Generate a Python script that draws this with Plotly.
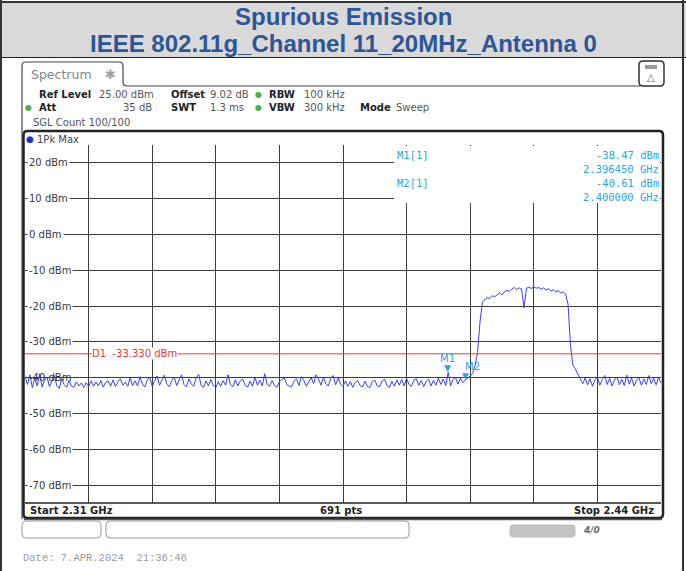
import numpy as np
import plotly.graph_objects as go

# ---- sweep settings -------------------------------------------------------
START_GHZ = 2.31
STOP_GHZ = 2.44
REF_LEVEL = 25.0          # dBm, top of the screen
BOTTOM_LEVEL = -75.0      # dBm, bottom of the screen
LIMIT_D1 = -33.330        # dBm, display line D1

Y_TICKS = [20, 10, 0, -10, -20, -30, -40, -50, -60, -70]
Y_TICK_TEXT = [f"{v} dBm" for v in Y_TICKS]

# ---- 1Pk Max trace, 0.5 MHz steps from 2.31 GHz to 2.44 GHz (dBm) --------
noise_below_band = [
    -39.6, -41.9, -39.2, -42.8, -40.1, -42.3, -38.9, -42.6, -40.7, -39.8,
    -42.5, -40.9, -39.4, -42.2, -43.0, -40.3, -41.9, -42.7, -40.8, -42.4,
    -42.6, -41.2, -42.3, -41.5, -42.7, -41.4, -42.5, -40.9, -42.4, -41.2,
    -42.3, -40.8, -42.6, -41.3, -40.9, -42.4, -40.6, -42.5, -41.1, -40.3,
    -42.1, -41.2, -42.4, -40.1, -42.2, -40.9, -42.3, -39.7, -41.8, -42.6,
    -40.6, -39.9, -42.4, -41.0, -39.5, -42.1, -40.6, -39.3, -41.9, -42.5,
    -40.8, -39.8, -42.2, -40.7, -39.2, -41.9, -42.6, -40.3, -41.8, -42.4,
    -40.0, -39.1, -42.1, -42.7, -40.9, -42.3, -40.5, -42.2, -42.8, -41.1,
    -42.4, -40.8, -42.1, -39.2, -41.9, -42.5, -40.6, -42.3, -40.9, -40.4,
    -42.2, -42.6, -41.0, -42.4, -39.8, -42.1, -40.7, -42.3, -38.9, -41.9,
    -42.4, -40.8, -42.2, -42.7, -41.1, -40.5, -40.1, -41.9, -42.4, -42.5,
    -41.0, -40.3, -42.2, -39.7, -40.8, -42.4, -41.1, -40.0, -41.6, -39.2,
    -40.4, -42.1, -39.9, -41.7, -42.3, -40.2, -39.4, -42.0, -40.1, -41.8,
    -42.5, -40.9, -42.4, -41.1, -42.7, -41.3, -40.8, -42.2, -42.6, -41.0,
    -42.4, -42.8, -41.1, -40.7, -42.3, -42.5, -40.9, -40.4, -42.2, -42.7,
    -41.0, -42.4, -40.6, -42.1, -40.5, -42.3, -40.2, -41.9, -42.4, -40.7,
    -40.3, -42.1, -40.8, -42.5, -41.0, -40.4, -42.3, -40.7, -42.1, -40.1,
    -41.9, -40.4, -42.2,
]
spike_m1 = [-38.5]
noise_near_edge = [-42.3, -40.5, -39.9, -41.8, -40.1, -41.4]
rising_edge = [-40.6, -40.1, -39.6, -38.8, -36.5, -33.0, -24.5, -18.8]
channel_and_falling_edge = [
    -18.3, -17.6, -17.9, -17.1, -17.4, -16.8, -16.3, -16.9, -16.0, -15.6,
    -15.9, -15.2, -14.8, -15.4, -14.9, -15.3, -20.5, -15.0, -14.7, -15.1,
    -14.6, -15.0, -14.8, -15.3, -14.9, -15.5, -15.2, -15.8, -15.4, -16.1,
    -15.7, -16.4, -16.0, -16.6, -19.5, -31.0, -36.5, -37.6, -39.2, -40.3,
]
noise_above_band = [
    -41.7, -40.1, -42.0, -40.3, -42.4, -40.6, -39.9, -42.1, -40.5, -39.4,
    -41.9, -40.2, -42.3, -40.7, -39.8, -42.0, -40.4, -42.2, -39.3, -41.8,
    -40.1, -42.4, -40.6, -40.0, -42.1, -40.3, -41.9, -39.4, -41.7, -40.2,
    -42.0, -39.9, -41.5,
]
levels = (noise_below_band + spike_m1 + noise_near_edge + rising_edge
          + channel_and_falling_edge + noise_above_band)
freqs = np.linspace(START_GHZ, STOP_GHZ, len(levels))

# ---- markers ----------------------------------------------------------------
marker_names = ["M1", "M2"]
marker_freq_ghz = [2.396450, 2.400000]
marker_level_dbm = [-38.47, -40.61]

# ---- page geometry (pixels) ----------------------------------------------
W, H = 686, 571
GX0, GX1 = 25, 661        # grid left / right
GY0, GY1 = 145, 503       # grid top / bottom


def px(x):
    return x / W


def py(y):
    return 1 - y / H


BLUE_TXT = "#2e5597"
MARK_BLUE = "#2fa3dc"
TRACE_BLUE = "#3f3fe8"
RED = "#e53935"
GRID = "#3c3c3c"
SANS = "DejaVu Sans"

fig = go.Figure()

fig.add_trace(go.Scatter(
    x=freqs, y=levels, mode="lines",
    line=dict(color=TRACE_BLUE, width=1),
    hoverinfo="skip", showlegend=False,
))

shapes = []
annotations = []


def rect(x0, y0, x1, y1, fill=None, line=None, lw=1, layer="above"):
    shapes.append(dict(
        type="rect", xref="paper", yref="paper",
        x0=px(x0), x1=px(x1), y0=py(y1), y1=py(y0),
        fillcolor=fill if fill else "rgba(0,0,0,0)",
        line=dict(color=line if line else "rgba(0,0,0,0)", width=lw if line else 0),
        layer=layer,
    ))


def hline(x0, x1, y, color, lw=1):
    shapes.append(dict(type="line", xref="paper", yref="paper",
                       x0=px(x0), x1=px(x1), y0=py(y), y1=py(y),
                       line=dict(color=color, width=lw), layer="above"))


def vline(x, y0, y1, color, lw=1):
    shapes.append(dict(type="line", xref="paper", yref="paper",
                       x0=px(x), x1=px(x), y0=py(y0), y1=py(y1),
                       line=dict(color=color, width=lw), layer="above"))


def rounded_path(x0, y0, x1, y1, r):
    return (f"M {px(x0 + r)},{py(y0)} L {px(x1 - r)},{py(y0)} "
            f"Q {px(x1)},{py(y0)} {px(x1)},{py(y0 + r)} "
            f"L {px(x1)},{py(y1 - r)} Q {px(x1)},{py(y1)} {px(x1 - r)},{py(y1)} "
            f"L {px(x0 + r)},{py(y1)} Q {px(x0)},{py(y1)} {px(x0)},{py(y1 - r)} "
            f"L {px(x0)},{py(y0 + r)} Q {px(x0)},{py(y0)} {px(x0 + r)},{py(y0)} Z")


def rounded(x0, y0, x1, y1, r, line, lw=1, fill=None):
    shapes.append(dict(type="path", xref="paper", yref="paper",
                       path=rounded_path(x0, y0, x1, y1, r),
                       fillcolor=fill if fill else "rgba(0,0,0,0)",
                       line=dict(color=line, width=lw), layer="above"))


def text(x, y, s, size=10, color="#333", anchor="left", family=SANS, bg=None,
         yanchor="middle", pad=0):
    annotations.append(dict(
        xref="paper", yref="paper", x=px(x), y=py(y), text=s, showarrow=False,
        xanchor=anchor, yanchor=yanchor,
        font=dict(size=size, color=color, family=family),
        bgcolor=bg if bg else "rgba(0,0,0,0)", borderpad=pad,
    ))


# ---- title band ------------------------------------------------------------
rect(0, 2, W, 57, fill="#d9d9d9")
hline(0, W, 2, "#333", 2)
hline(0, W, 57.5, "#222", 1.2)
vline(1, 0, H, "#333", 2)
vline(683, 0, H, "#333", 2)
text(343, 16.5, "<b>Spurious Emission</b>", 24, BLUE_TXT, "center", "Liberation Sans")
text(343, 43.5, "<b>IEEE 802.11g_Channel 11_20MHz_Antenna 0</b>", 24, BLUE_TXT,
     "center", "Liberation Sans")

# ---- analyzer window frame ----------------------------------------------
tab = (f"M {px(22)},{py(519)} L {px(22)},{py(66)} Q {px(22)},{py(62)} {px(26)},{py(62)} "
       f"L {px(119)},{py(62)} Q {px(123)},{py(62)} {px(123)},{py(66)} "
       f"L {px(123)},{py(82)} Q {px(123)},{py(86)} {px(127)},{py(86)} L {px(640)},{py(86)}")
shapes.append(dict(type="path", xref="paper", yref="paper", path=tab,
                   line=dict(color="#444", width=1.2), layer="above"))
text(30, 74, "Spectrum", 12.5, "#858585")
text(110, 74, "✱", 13, "#a0a0a0", "center")
rounded(639, 61, 664, 86, 4, "#333", 1.5, fill="#ffffff")
rect(645, 65, 657, 69, fill="#9a9a9a")
text(651, 78, "△", 10, "#666", "center")

# instrument settings
text(38, 94, "<b>Ref Level</b>", 10, "#222")
text(98, 94, "25.00 dBm", 10, "#555")
text(170, 94, "<b>Offset</b>", 10, "#222")
text(209, 94, "9.02 dB", 10, "#555")
text(258, 94, "●", 8, "#4caf50", "center")
text(268, 94, "<b>RBW</b>", 10, "#222")
text(303, 94, "100 kHz", 10, "#555")
text(29, 108, "●", 8, "#4caf50", "center")
text(38, 108, "<b>Att</b>", 10, "#222")
text(153, 108, "35 dB", 10, "#555", "right")
text(170, 108, "<b>SWT</b>", 10, "#222")
text(245, 108, "1.3 ms", 10, "#555", "right")
text(258, 108, "●", 8, "#4caf50", "center")
text(268, 108, "<b>VBW</b>", 10, "#222")
text(303, 108, "300 kHz", 10, "#555")
text(359, 108, "<b>Mode</b>", 10, "#222")
text(395, 108, "Sweep", 10, "#555")
text(32, 122, "SGL Count 100/100", 10, "#555")

# diagram frame
rounded(23.5, 131, 663, 518, 4, "#222", 2.5)
hline(24, 662, 519.5, "#555", 1.5)
hline(GX0, GX1, GY1, "#222", 1.5)
text(30, 139, "●", 9, "#1f2fd6", "center")
text(36, 139, "1Pk Max", 10, "#444")
text(29, 510.5, "<b>Start 2.31 GHz</b>", 10, "#222")
text(341, 510.5, "<b>691 pts</b>", 10, "#222", "center")
text(655, 510.5, "<b>Stop 2.44 GHz</b>", 10, "#222", "right")

# status bar below the window
rounded(22, 521, 101, 538, 4, "#9a9a9a", 1)
rounded(106, 521, 409, 538, 4, "#9a9a9a", 1)
rounded(510, 525, 575, 537, 3, "#bdbdbd", 1, fill="#c4c4c4")
text(591, 530, "<b><i>4/0</i></b>", 9, "#6a6a6a", "center")
text(22, 558, "Date: 7.APR.2024  21:36:46", 10.5, "#9a9a9a", family="Liberation Mono")

# ---- y labels inside the grid -------------------------------------------
for v, s in zip(Y_TICKS, Y_TICK_TEXT):
    annotations.append(dict(
        xref="paper", yref="y", x=px(27), y=v, text=s, showarrow=False,
        xanchor="left", yanchor="middle",
        font=dict(size=10, color="#3a3a3a", family=SANS),
        bgcolor="white" if v != -40 else "rgba(0,0,0,0)", borderpad=1,
    ))

# ---- display line D1 ----------------------------------------------------
shapes.append(dict(type="line", xref="x", yref="y", x0=START_GHZ, x1=STOP_GHZ,
                   y0=LIMIT_D1, y1=LIMIT_D1, line=dict(color=RED, width=1),
                   layer="above"))
annotations.append(dict(xref="paper", yref="y", x=px(91), y=LIMIT_D1,
                        text=f"D1  {LIMIT_D1:.3f} dBm", showarrow=False,
                        xanchor="left", yanchor="middle",
                        font=dict(size=10, color=RED, family=SANS),
                        bgcolor="white", borderpad=0))

# ---- marker table ---------------------------------------------------------
rect(394, 146, 660, 203, fill="white")
for i, (name, f, lv) in enumerate(zip(marker_names, marker_freq_ghz, marker_level_dbm)):
    y0 = 155 + 28 * i
    text(396, y0, f"{name}[1]", 10.5, MARK_BLUE, family="DejaVu Sans Mono")
    text(660, y0, f"{lv:.2f} dBm", 10.5, MARK_BLUE, "right", "DejaVu Sans Mono")
    text(660, y0 + 14, f"{f:.6f} GHz", 10.5, MARK_BLUE, "right", "DejaVu Sans Mono")

# ---- marker symbols on the trace --------------------------------------------
for name, f, lv in zip(marker_names, marker_freq_ghz, marker_level_dbm):
    annotations.append(dict(xref="x", yref="y", x=f, y=lv, text="▼", showarrow=False,
                            xanchor="center", yanchor="bottom", yshift=-3,
                            font=dict(size=9, color=MARK_BLUE, family=SANS)))
    dx = 0 if name == "M1" else 7
    annotations.append(dict(xref="x", yref="y", x=f, y=lv, text=name, showarrow=False,
                            xanchor="center", yanchor="bottom", xshift=dx, yshift=6,
                            font=dict(size=10, color=MARK_BLUE, family=SANS)))

fig.update_layout(
    width=W, height=H,
    margin=dict(l=0, r=0, t=0, b=0),
    paper_bgcolor="white", plot_bgcolor="white",
    showlegend=False,
    shapes=shapes, annotations=annotations,
    xaxis=dict(domain=[px(GX0), px(GX1)], range=[START_GHZ, STOP_GHZ],
               tick0=START_GHZ, dtick=(STOP_GHZ - START_GHZ) / 10,
               showgrid=True, gridcolor=GRID, gridwidth=1,
               showticklabels=False, ticks="", zeroline=False, showline=False,
               fixedrange=True),
    yaxis=dict(domain=[py(GY1), py(GY0)], range=[BOTTOM_LEVEL, REF_LEVEL],
               tick0=-70, dtick=10,
               showgrid=True, gridcolor=GRID, gridwidth=1,
               showticklabels=False, ticks="", zeroline=False, showline=False,
               fixedrange=True),
)

fig.write_html("out.html")
